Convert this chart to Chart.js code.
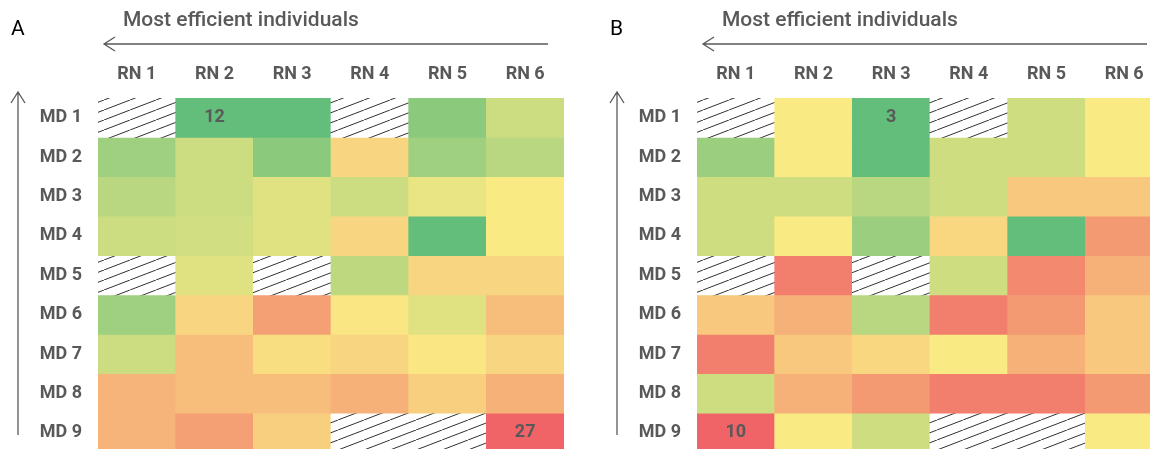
<!DOCTYPE html>
<html>
<head>
<meta charset="utf-8">
<script src="https://cdn.jsdelivr.net/npm/chart.js@4.4.1/dist/chart.umd.min.js"></script>
<style>
  html, body { margin: 0; padding: 0; background: #fff; overflow: hidden; }
  body { width: 1150px; height: 449px; position: relative; }
  canvas { position: absolute; top: 0; }
  #chartA { left: 0; }
  #chartB { left: 599px; }
</style>
</head>
<body>
<canvas id="chartA" width="575" height="462"></canvas>
<canvas id="chartB" width="575" height="462"></canvas>
<script>
// Heatmaps of RN (columns) vs MD (rows), null = no data (hatched)
const columns = ['RN 1', 'RN 2', 'RN 3', 'RN 4', 'RN 5', 'RN 6'];
const rows = ['MD 1', 'MD 2', 'MD 3', 'MD 4', 'MD 5', 'MD 6', 'MD 7', 'MD 8', 'MD 9'];

const valuesA = [
  [null, 12, 12, null, 14, 17.2],
  [15, 17.2, 14, 20.7, 15, 16.2],
  [16.2, 17.2, 18.2, 17.2, 18.7, 19.5],
  [17.2, 17.5, 18.2, 20.7, 12, 19.5],
  [null, 18.2, null, 16.5, 20.7, 20.7],
  [15, 20.7, 23.7, 19.7, 18.2, 22],
  [17.2, 22, 20.2, 20.7, 19.7, 20.7],
  [22.5, 22, 22, 22.7, 21, 22.7],
  [22.5, 23.7, 21, null, null, 27]
];

const valuesB = [
  [null, 6.5, 3, null, 5.5, 6.5],
  [4.3, 6.5, 3, 5.5, 5.5, 6.5],
  [5.5, 5.5, 5, 5.5, 7.4, 7.4],
  [5.5, 6.5, 4.3, 7, 3, 8.6],
  [null, 9.3, null, 5.5, 9, 8],
  [7.4, 8, 5, 9.3, 8.6, 7.4],
  [9.3, 7.4, 7, 6.5, 8, 7.4],
  [5.5, 8, 8.6, 9.3, 9.3, 8.6],
  [10, 6.5, 5.5, null, null, 6.5]
];

// cells that get their value printed [row, col]
const labelledA = [[0, 1], [8, 5]];
const labelledB = [[0, 2], [8, 0]];

const GREEN = [99, 190, 123];
const YELLOW = [250, 234, 132];
const RED = [240, 100, 104];
const TEXT = '#595959';
const FONT = 'Roboto, "Liberation Sans", sans-serif';

function mix(a, b, t) {
  return 'rgb(' + a.map((v, i) => Math.round(v + (b[i] - v) * t)).join(',') + ')';
}

function colourFor(v, min, max) {
  const t = (v - min) / (max - min);
  return t < 0.5 ? mix(GREEN, YELLOW, t * 2) : mix(YELLOW, RED, (t - 0.5) * 2);
}

function hatchPattern(ctx) {
  const c = document.createElement('canvas');
  c.width = 26;
  c.height = 10;
  const p = c.getContext('2d');
  p.fillStyle = '#fff';
  p.fillRect(0, 0, 26, 10);
  p.strokeStyle = '#333';
  p.lineWidth = 1;
  p.beginPath();
  p.moveTo(-26, 20); p.lineTo(52, -10);
  p.stroke();
  return ctx.createPattern(c, 'repeat');
}

// Letter, title arrow and vertical arrow drawn on top
const decorations = {
  id: 'decorations',
  afterDraw(chart, args, opts) {
    const ctx = chart.ctx;
    const sx = chart.scales.x, sy = chart.scales.y;
    ctx.save();

    ctx.fillStyle = '#000';
    ctx.font = '21px ' + FONT;
    ctx.textBaseline = 'middle';
    ctx.textAlign = 'left';
    ctx.fillText(opts.letter, 11, 30);

    ctx.fillStyle = TEXT;
    ctx.font = '500 21px ' + FONT;
    ctx.fillText('Most efficient individuals', 123, 21);

    ctx.strokeStyle = '#595959';
    ctx.lineWidth = 1.3;
    ctx.beginPath();
    ctx.moveTo(548, 44); ctx.lineTo(104, 44);
    ctx.moveTo(115, 37); ctx.lineTo(104, 44); ctx.lineTo(115, 51);
    ctx.moveTo(18, 435); ctx.lineTo(18, 92);
    ctx.moveTo(11, 103); ctx.lineTo(18, 92); ctx.lineTo(25, 103);
    ctx.stroke();

    // values of labelled cells
    ctx.font = 'bold 18px ' + FONT;
    ctx.textAlign = 'center';
    opts.cells.forEach(([r, c]) => {
      const v = opts.values[r][c];
      ctx.fillText(String(v), sx.getPixelForValue(c), sy.getPixelForValue(r + 0.5));
    });
    ctx.restore();
  }
};

function makeHeatmap(id, values, letter, cells) {
  const canvas = document.getElementById(id);
  const ctx = canvas.getContext('2d');
  const flat = values.flat().filter(v => v !== null);
  const min = Math.min(...flat), max = Math.max(...flat);
  const hatch = hatchPattern(ctx);

  const datasets = rows.map((name, r) => ({
    label: name,
    data: columns.map(() => [r, r + 1]),
    backgroundColor: values[r].map(v => v === null ? hatch : colourFor(v, min, max)),
    borderWidth: 0,
    barPercentage: 1,
    categoryPercentage: 1,
    grouped: false
  }));

  return new Chart(canvas, {
    type: 'bar',
    data: { labels: columns, datasets: datasets },
    plugins: [decorations],
    options: {
      responsive: false,
      animation: false,
      layout: { padding: { top: 58, left: 38, right: 11, bottom: 9.5 } },
      plugins: {
        legend: { display: false },
        tooltip: { enabled: false },
        decorations: { letter: letter, cells: cells, values: values }
      },
      scales: {
        x: {
          position: 'top',
          grid: { display: false, drawTicks: false },
          border: { display: false },
          ticks: { color: TEXT, font: { family: FONT, size: 18, weight: 'bold' }, padding: 13 },
          afterFit: s => { s.height = 40; s.paddingLeft = 0; s.paddingRight = 0; }
        },
        y: {
          type: 'linear',
          min: 0,
          max: rows.length,
          reverse: true,
          grid: { display: false, drawTicks: false },
          border: { display: false },
          afterBuildTicks: s => { s.ticks = rows.map((n, i) => ({ value: i + 0.5 })); },
          ticks: {
            color: TEXT,
            font: { family: FONT, size: 18, weight: 'bold' },
            padding: 16,
            callback: v => rows[Math.floor(v)]
          },
          afterFit: s => { s.width = 60; s.paddingTop = 0; s.paddingBottom = 0; }
        }
      }
    }
  });
}

makeHeatmap('chartA', valuesA, 'A', labelledA);
makeHeatmap('chartB', valuesB, 'B', labelledB);
</script>
</body>
</html>
